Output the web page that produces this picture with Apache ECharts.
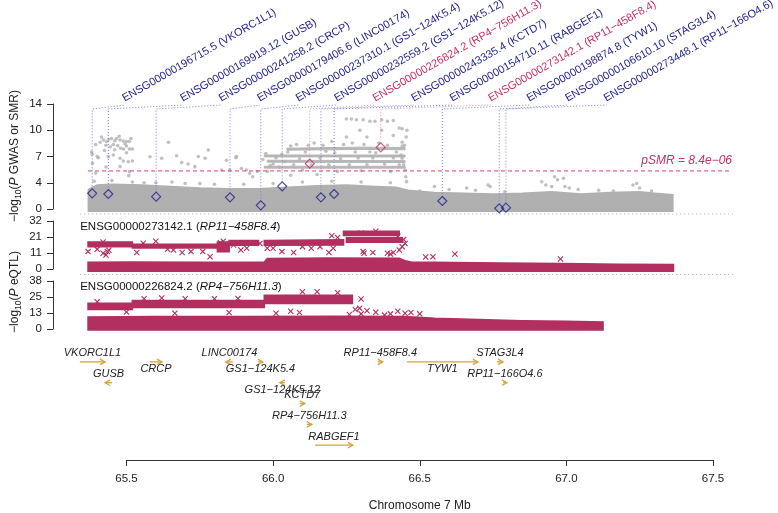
<!DOCTYPE html>
<html><head><meta charset="utf-8">
<script src="https://cdn.jsdelivr.net/npm/echarts@6/dist/echarts.min.js"></script>
<style>html,body{margin:0;padding:0;background:#fff}#c{width:778px;height:513px}</style>
</head><body><div id="c"></div>
<script>
// ---------------- DATA ----------------
const xTickLabels = ['65.5','66.0','66.5','67.0','67.5'];
const gwasTickLabels = ['0','4','7','10','14'];
const eqtl1TickLabels = ['0','11','21','32'];
const eqtl2TickLabels = ['0','13','25','38'];
const pSMRThreshold = 5.076; // -log10(8.4e-06)
const thresholdSpan = [65.369, 67.558];

const probeIds = ['ENSG00000196715.5','ENSG00000169919.12','ENSG00000241258.2','ENSG00000179406.6','ENSG00000237310.1','ENSG00000232559.2','ENSG00000226824.2','ENSG00000243335.4','ENSG00000154710.11','ENSG00000273142.1','ENSG00000198874.8','ENSG00000106610.10','ENSG00000273448.1'];
const probeGenes = ['VKORC1L1','GUSB','CRCP','LINC00174','GS1−124K5.4','GS1−124K5.12','RP4−756H11.3','KCTD7','RABGEF1','RP11−458F8.4','TYW1','STAG3L4','RP11−166O4.6'];
const probePos = [65.383,65.438,65.601,65.853,65.958,66.031,66.125,66.163,66.208,66.367,66.577,66.771,66.794];
const probeSMR = [2.09,2.0,1.64,1.56,0.49,3.02,6.04,1.56,2.0,8.22,1.07,0.09,0.18];
const probeHit = [0,0,0,0,0,0,1,0,0,1,0,0,0];

// dense GWAS masses [Mb, low, high]
const gwasBands = [
  [[65.37,-0.3,2.6],[65.40,-0.3,3.2],[65.45,-0.3,3.3],[65.55,-0.3,3.2],[65.65,-0.3,3.0],[65.75,-0.3,2.8],[65.85,-0.3,2.7],[65.95,-0.3,2.7],[66.05,-0.3,2.9],[66.15,-0.3,3.1],[66.25,-0.3,3.2],[66.35,-0.3,3.0],[66.42,-0.3,2.9],[66.46,-0.3,2.5],[66.55,-0.3,2.2],[66.65,-0.3,2.1],[66.75,-0.3,2.0],[66.85,-0.3,2.1],[66.95,-0.3,2.3],[67.05,-0.3,2.0],[67.15,-0.3,2.2],[67.25,-0.3,2.3],[67.30,-0.3,2.1],[67.363,-0.3,1.9]]
];
// thin dense rows of the elevated GWAS cluster [Mb, low, high]
const gwasRows = [
  [[66.047,7.85,8.1],[66.20,7.9,8.2],[66.30,7.95,8.25],[66.45,7.9,8.2]],
  [[65.97,6.95,7.2],[66.45,6.95,7.2]],
  [[65.98,6.25,6.5],[66.45,6.2,6.45]],
  [[65.97,5.45,5.7],[66.45,5.45,5.7]]
];
// sparse GWAS points [Mb, -log10 P]
const gwasPoints = [
  [65.381,7.6],[65.383,7.3],[65.384,6.1],[65.41,8.9],[65.421,9.2],[65.432,9.0],[65.449,9.4],[65.455,8.6],[65.466,9.4],[65.47,8.45],[65.478,9.2],[65.48,8.1],[65.489,9.07],[65.49,8.0],[65.50,9.0],[65.51,9.0],[65.51,8.0],[65.52,8.0],[65.404,6.85],[65.438,6.97],[65.455,7.2],[65.478,6.76],[65.489,6.4],[65.506,6.3],[65.52,6.4],[65.478,5.65],[65.51,4.98],[65.508,4.45],[65.44,9.3],[65.46,9.1],[65.495,8.7],[65.43,8.5],[65.395,4.8],[65.43,5.6],
  [65.415,9.6],[65.445,8.3],[65.475,9.7],[65.50,8.4],[65.515,9.4],[65.425,7.8],[65.46,7.9],[65.50,7.5],[65.395,8.6],[65.40,7.0],
  [65.58,6.97],[65.62,6.76],[65.643,8.9],[65.671,7.1],[65.688,6.2],[65.71,6.0],[65.733,5.65],[65.779,7.87],[65.768,6.76],[65.824,5.2],[65.841,6.5],[65.852,5.2],[65.873,6.85],[65.892,5.4],[65.909,5.2],[65.92,4.76],[65.93,4.3],[65.946,5.0],[65.75,3.4],[65.745,7.0],[65.875,7.0],[65.655,3.6],[65.56,3.5],
  [66.25,12.0],[66.267,12.0],[66.284,11.9],[66.307,11.9],[66.33,11.7],[66.347,11.7],[66.37,11.9],[66.39,11.7],[66.41,11.8],[66.43,10.8],[66.44,10.7],[66.296,10.5],[66.37,10.5],[66.25,9.6],[66.32,9.6],[66.41,9.8],[66.454,9.6],
  [66.436,7.2],[66.44,6.76],[66.445,5.9],[66.45,5.2],[66.452,4.3],[66.455,3.65],[66.456,10.5],[66.448,8.5],[66.44,8.9],
  [65.98,5.0],[66.0,6.0],[66.02,5.6],[66.05,7.6],[66.08,8.6],[66.1,5.2],[66.14,8.8],[66.18,7.7],[66.2,9.0],[66.22,5.0],[66.27,8.8],[66.3,5.1],[66.33,7.6],[66.36,8.8],[66.4,5.0],[66.42,7.6],[66.15,4.6],[66.06,4.5],
  [65.965,6.6],[65.975,7.4],[65.99,5.8],[66.01,6.8],[66.03,7.3],[66.04,6.3],[66.06,8.4],[66.07,5.9],[66.09,6.7],[66.11,7.6],[66.12,8.5],[66.13,5.9],[66.16,6.8],[66.17,8.5],[66.19,5.9],[66.21,7.5],[66.23,6.7],[66.24,8.6],[66.26,5.9],[66.28,7.6],[66.29,6.8],[66.31,8.6],[66.32,5.9],[66.34,6.8],[66.35,7.5],[66.38,6.0],[66.39,8.5],[66.41,6.8],[66.43,5.9],[66.44,8.4],
  [65.39,3.7],[65.45,3.8],[65.52,3.6],[65.6,3.5],[65.7,3.4],[65.8,3.3],[65.9,3.3],[66.0,3.4],[66.1,3.6],[66.2,3.7],[66.3,3.6],[66.4,3.5],
  [66.916,3.64],[66.93,3.2],[66.95,3.0],[66.96,4.3],[66.97,3.9],[66.99,4.1],[66.995,3.0],[67.01,2.8],[67.04,2.6],[66.733,3.2],[66.74,3.0],[66.79,2.3],[67.227,3.2],[67.24,3.4],[67.25,2.8],[66.66,2.8],[66.69,2.5],[66.60,2.6],[66.5,2.4],[67.11,2.5],[67.16,2.4],[67.29,2.4],[66.55,3.0]
];

// eQTL panel 1: ENSG00000273142.1
const eqtl1Bands = [
  [[65.369,-1.5,4.5],[65.51,-1.5,4.7],[65.75,-1.5,4.5],[65.97,-1.5,4.7],[65.98,-1.5,7.0],[66.19,-1.5,7.3],[66.43,-1.5,7.2],[66.45,-1.5,5.5],[66.47,-1.5,4.6],[66.77,-1.5,4.0],[66.98,-1.5,3.6],[67.18,-1.5,3.2],[67.365,-1.5,3.0]],
  [[65.369,14.8,18.0],[65.52,14.8,18.0]],
  [[65.52,14.0,16.5],[65.81,14.0,16.5]],
  [[65.81,11.5,18.0],[65.85,11.5,18.0]],
  [[65.85,15.8,19.0],[65.95,15.8,19.0]],
  [[65.97,15.8,19.0],[66.24,16.0,19.5]],
  [[66.25,17.8,20.8],[66.44,17.8,20.8]],
  [[66.24,22.3,25.2],[66.43,22.3,25.2]]
];
const eqtl1Points = [
  [65.369,11.6],[65.40,13.1],[65.43,9.3],[65.435,11.6],[65.42,10.5],[65.44,12.5],[65.535,11.0],[65.557,17.2],[65.64,13.1],[65.66,12.7],[65.69,11.0],[65.72,11.6],[65.76,11.6],[65.785,8.2],[65.82,17.5],[65.83,18.5],[65.865,16],[65.89,12.7],[65.91,13.8],[65.955,17],[65.98,13.8],[66.0,13.8],[66.03,11.6],[66.07,11.0],[66.10,14.9],[66.13,13.8],[66.16,14.9],[66.19,11.0],[66.205,13.8],[66.307,11.6],[66.31,10.5],[66.34,11.0],[66.39,10.5],[66.41,11.0],[66.43,12.7],[66.44,14.9],[66.45,17],[66.445,19.6],[66.425,21.8],[66.40,10.0],[66.52,8.0],[66.545,8.2],[66.62,10.0],[66.98,6.7],[66.30,24],[66.35,25.2],[66.2,22.2],[66.22,21],[65.6,18.5],[65.42,18.0]
];

// eQTL panel 2: ENSG00000226824.2
const eqtl2Bands = [
  [[65.369,-0.8,9.5],[65.6,-0.8,9.8],[65.9,-0.8,9.8],[66.2,-0.8,10],[66.45,-0.8,9.8],[66.55,-0.8,8.5],[66.7,-0.8,7.5],[66.85,-0.8,6.5],[67.0,-0.8,6.0],[67.125,-0.8,5.5]],
  [[65.369,15.5,20.3],[65.52,15.5,20.3]],
  [[65.52,17.0,22.6],[65.97,17.0,22.6]],
  [[65.97,20.2,26.6],[66.27,20.2,26.6]]
];
const eqtl2Points = [
  [66.10,29.5],[66.15,29.5],[66.22,28.8],[66.30,23.8],[65.56,24],[65.62,24.5],[65.70,24],[65.80,24],[65.88,24.2],[65.40,21.5],
  [65.50,13.5],[65.665,12.5],[65.85,13.0],[66.01,12.5],[66.06,14.0],[66.09,13.0],[66.28,15.5],[66.295,16.5],[66.32,14.5],[66.35,13.2],[66.40,12.0],[66.425,14.0],[66.45,12.5],[66.3,12],[66.38,11],[66.26,11.5],[66.47,13.0],[66.5,12]
];

// gene track
const geneNames = ['VKORC1L1','GUSB','CRCP','LINC00174','GS1−124K5.4','GS1−124K5.12','KCTD7','RP4−756H11.3','RABGEF1','RP11−458F8.4','TYW1','STAG3L4','RP11−166O4.6'];
const geneStart = [65.341,65.427,65.580,65.839,65.949,66.023,66.091,66.115,66.143,66.357,66.456,66.763,66.784];
const geneEnd   = [65.427,65.451,65.621,65.863,65.965,66.040,66.108,66.132,66.272,66.374,66.698,66.784,66.797];
const geneRow   = [0,1,0,0,0,1,2,3,4,0,0,0,1];
const geneStrand= [1,-1,1,-1,1,-1,1,1,1,1,1,1,1];
const geneLabelSide = ['above','above','below','above','below','below','above','above','above','above','below','above','above'];

// ---------------- STYLE / LAYOUT ----------------
const F = "'Liberation Sans', Arial, Helvetica, sans-serif";
const GRAY = '#B0B0B0', GRAY_ROW = '#B6B6B6', NAVY = '#24248C', CRIM = '#C4305F', EQ = '#B22F60', GOLD = '#D6A23C';
const LINE_BLUE = '#7B7BD6', LINE_PINK = '#E58AAB';
const X0 = 65.5, X1 = 67.5;
const gridL = 126.5, gridR = 778 - 713;
const labelPx = i => i === 0 ? 125 : 183 + 38.5 * (i - 1);

const chart = echarts.init(document.getElementById('c'));

function bandSeries(bands, idx, color, lw) {
  return {
    type: 'custom', xAxisIndex: idx, yAxisIndex: idx, clip: false, silent: true, z: 1,
    data: [[X0, 0]],
    renderItem: function (params, api) {
      return { type: 'group', children: bands.map(b => {
        const top = b.map(p => api.coord([p[0], p[2]]));
        const bot = b.slice().reverse().map(p => api.coord([p[0], p[1]]));
        return { type: 'polygon', shape: { points: top.concat(bot) }, style: { fill: color, stroke: color, lineWidth: lw } };
      }) };
    }
  };
}
function crossSeries(pts, idx, color) {
  return {
    type: 'custom', xAxisIndex: idx, yAxisIndex: idx, clip: false, silent: true, z: 2,
    data: pts,
    renderItem: function (params, api) {
      const c = api.coord([api.value(0), api.value(1)]); const s = 2.6;
      return { type: 'group', children: [
        { type: 'line', shape: { x1: c[0]-s, y1: c[1]-s, x2: c[0]+s, y2: c[1]+s }, style: { stroke: color, lineWidth: 1.1 } },
        { type: 'line', shape: { x1: c[0]-s, y1: c[1]+s, x2: c[0]+s, y2: c[1]-s }, style: { stroke: color, lineWidth: 1.1 } }
      ] };
    }
  };
}
function yAx(idx, max, vals, labels) {
  return {
    gridIndex: idx, type: 'value', min: 0, max: max, offset: gridL - 53,
    axisLine: { show: true, lineStyle: { color: '#333', width: 1 } },
    axisTick: { show: true, length: 6, customValues: vals, lineStyle: { color: '#333' } },
    axisLabel: { customValues: vals, margin: 11, fontSize: 11.5, fontFamily: F, color: '#222',
      formatter: v => { let k = 0, d = 1e9; vals.forEach((t, j) => { if (Math.abs(t - v) < d) { d = Math.abs(t - v); k = j; } }); return labels[k]; } },
    splitLine: { show: false }
  };
}
const xHidden = i => ({ gridIndex: i, type: 'value', min: X0, max: X1, show: false });

const option = {
  animation: false,
  grid: [
    { left: gridL, right: gridR, top: 104, height: 105 },
    { left: gridL, right: gridR, top: 221, height: 48 },
    { left: gridL, right: gridR, top: 281, height: 48 },
    { left: gridL, right: gridR, top: 345, height: 116 }
  ],
  xAxis: [xHidden(0), xHidden(1), xHidden(2), {
    gridIndex: 3, type: 'value', min: X0, max: X1, interval: 0.5, position: 'bottom',
    axisLine: { show: true, onZero: false, lineStyle: { color: '#333' } },
    axisTick: { show: true, length: 6, lineStyle: { color: '#333' } },
    axisLabel: { margin: 13, fontSize: 11.5, fontFamily: F, color: '#222', formatter: v => xTickLabels[Math.round((v - X0) / 0.5)] },
    splitLine: { show: false },
    name: 'Chromosome 7 Mb', nameLocation: 'middle', nameGap: 40,
    nameTextStyle: { fontSize: 12, fontFamily: F, color: '#222' }
  }],
  yAxis: [
    yAx(0, 14, [0, 3.5, 7, 10.5, 14], gwasTickLabels),
    yAx(1, 32, [0, 32/3, 64/3, 32], eqtl1TickLabels),
    yAx(2, 38, [0, 38/3, 76/3, 38], eqtl2TickLabels),
    { gridIndex: 3, type: 'value', min: -0.81, max: 4.71, inverse: true, show: false }
  ],
  series: [
    bandSeries(gwasBands, 0, GRAY, 1.6),
    bandSeries(gwasRows, 0, GRAY_ROW, 1),
    { type: 'scatter', xAxisIndex: 0, yAxisIndex: 0, clip: false, silent: true, z: 2,
      symbol: 'circle', symbolSize: 3.6, itemStyle: { color: GRAY }, data: gwasPoints },
    { // pSMR threshold line
      type: 'custom', xAxisIndex: 0, yAxisIndex: 0, clip: false, silent: true, z: 3,
      data: [[thresholdSpan[0], pSMRThreshold, thresholdSpan[1]]],
      renderItem: function (params, api) {
        const a = api.coord([api.value(0), api.value(1)]), b = api.coord([api.value(2), api.value(1)]);
        return { type: 'line', shape: { x1: a[0], y1: a[1], x2: b[0], y2: b[1] },
          style: { stroke: '#D63E70', lineWidth: 1, lineDash: [4, 3] } };
      }
    },
    { // connectors + labels
      type: 'custom', xAxisIndex: 0, yAxisIndex: 0, clip: false, silent: true, z: 3,
      data: probePos.map((x, i) => [x, probeSMR[i], i]),
      renderItem: function (params, api) {
        const i = api.value(2);
        const c = api.coord([api.value(0), api.value(1)]);
        const topY = params.coordSys.y + 5;
        const lx = labelPx(i), ly = params.coordSys.y + 1;
        const lc = probeHit[i] ? LINE_PINK : LINE_BLUE;
        const tc = probeHit[i] ? CRIM : NAVY;
        return { type: 'group', children: [
          { type: 'polyline', shape: { points: [[c[0], c[1] - 4], [c[0], topY], [lx, ly]] },
            style: { stroke: lc, lineWidth: 1, lineDash: [1, 2], fill: null } },
          { type: 'text', x: lx + 1, y: ly - 1, rotation: Math.PI / 6,
            style: { text: probeIds[i] + ' (' + probeGenes[i] + ')', fill: tc, fontSize: 11, fontFamily: F,
              textAlign: 'left', textVerticalAlign: 'bottom' } }
        ] };
      }
    },
    { type: 'scatter', xAxisIndex: 0, yAxisIndex: 0, clip: false, silent: true, z: 4,
      symbol: 'diamond', symbolSize: [9, 9],
      data: probePos.map((x, i) => ({ value: [x, probeSMR[i]],
        itemStyle: { color: 'rgba(255,255,255,0)', borderColor: probeHit[i] ? CRIM : NAVY, borderWidth: 1.2 } })) },
    bandSeries(eqtl1Bands, 1, EQ, 1.6),
    crossSeries(eqtl1Points, 1, EQ),
    bandSeries(eqtl2Bands, 2, EQ, 1.6),
    crossSeries(eqtl2Points, 2, EQ),
    { // genes
      type: 'custom', xAxisIndex: 3, yAxisIndex: 3, clip: false, silent: true,
      data: geneNames.map((g, i) => [geneStart[i], geneRow[i], i]),
      renderItem: function (params, api) {
        const i = api.value(2);
        const p1 = api.coord([geneStart[i], geneRow[i]]), p2 = api.coord([geneEnd[i], geneRow[i]]);
        const dir = geneStrand[i] > 0 ? 1 : -1; const tip = dir > 0 ? p2 : p1;
        const h = 5, w = 2.8;
        const cx = (p1[0] + p2[0]) / 2;
        const ty = p1[1] + (geneLabelSide[i] === 'above' ? -8.5 : 7.5);
        return { type: 'group', children: [
          { type: 'line', shape: { x1: p1[0], y1: p1[1], x2: p2[0], y2: p2[1] }, style: { stroke: GOLD, lineWidth: 1.3 } },
          { type: 'polyline', shape: { points: [[tip[0] - dir * h, tip[1] - w], [tip[0], tip[1]], [tip[0] - dir * h, tip[1] + w]] },
            style: { stroke: GOLD, lineWidth: 1.3, fill: null } },
          { type: 'text', x: cx, y: ty, style: { text: geneNames[i], fill: '#222', fontSize: 11, fontStyle: 'italic', fontFamily: F,
            textAlign: 'center', textVerticalAlign: 'middle' } }
        ] };
      }
    }
  ]
};
chart.setOption(option);

// decorations computed from the chart's own scales
const px = (g, x, y) => chart.convertToPixel({ gridIndex: g }, [x, y]);
const xa = px(0, 65.342, 0)[0], xb = px(0, 67.568, 0)[0];
const thr = px(0, thresholdSpan[1], pSMRThreshold);
const rich = {
  a: { fontSize: 12, fontFamily: F, fill: '#222', color: '#222' },
  s: { fontSize: 8.5, fontFamily: F, fill: '#222', color: '#222', padding: [7, 0, 0, 0] },
  i: { fontSize: 12, fontFamily: F, fill: '#222', color: '#222', fontStyle: 'italic' }
};
const titleRich = {
  a: { fontSize: 11.5, fontFamily: F, fill: '#111', color: '#111' },
  i: { fontSize: 11.5, fontFamily: F, fill: '#111', color: '#111', fontStyle: 'italic' }
};
chart.setOption({ graphic: [
  { type: 'line', shape: { x1: xa, y1: 214, x2: xb, y2: 214 }, style: { stroke: '#AAAAAA', lineWidth: 1, lineDash: [1, 3] }, silent: true },
  { type: 'line', shape: { x1: xa, y1: 274.5, x2: xb, y2: 274.5 }, style: { stroke: '#AAAAAA', lineWidth: 1, lineDash: [1, 3] }, silent: true },
  { type: 'text', x: thr[0] + 2, y: thr[1] - 10, silent: true,
    style: { text: 'pSMR = 8.4e−06', fill: CRIM, fontSize: 12, fontStyle: 'italic', fontFamily: F, textAlign: 'right', textVerticalAlign: 'middle' } },
  { type: 'text', x: xa, y: 227, silent: true,
    style: { text: '{a|ENSG00000273142.1 (}{i|RP11−458F8.4}{a|)}', rich: titleRich, textAlign: 'left', textVerticalAlign: 'middle' } },
  { type: 'text', x: xa, y: 287, silent: true,
    style: { text: '{a|ENSG00000226824.2 (}{i|RP4−756H11.3}{a|)}', rich: titleRich, textAlign: 'left', textVerticalAlign: 'middle' } },
  { type: 'text', x: 15, y: 156, rotation: Math.PI / 2, silent: true,
    style: { text: '{a|−log}{s|10}{a|(}{i|P}{a| GWAS or SMR)}', rich: rich, textAlign: 'center', textVerticalAlign: 'middle' } },
  { type: 'text', x: 15, y: 292, rotation: Math.PI / 2, silent: true,
    style: { text: '{a|−log}{s|10}{a|(}{i|P}{a| eQTL)}', rich: rich, textAlign: 'center', textVerticalAlign: 'middle' } }
] });
</script>
</body></html>
